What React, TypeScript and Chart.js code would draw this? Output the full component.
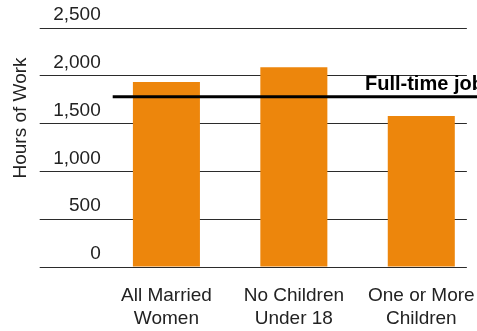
import React, { useEffect, useRef } from "react";
import { Chart, registerables } from "chart.js";

Chart.register(...registerables);

const categories: string[][] = [
  ["All Married", "Women"],
  ["No Children", "Under 18"],
  ["One or More", "Children"],
];
const hoursOfWork: number[] = [1935, 2090, 1580];
const fullTimeHours = 1780;
const fullTimeLabel = "Full-time job";
const yAxisTitle = "Hours of Work";
const yMin = 0;
const yMax = 2500;
const yStep = 500;

const FONT = "'Liberation Sans', Arial, sans-serif";
const TEXT = "#222222";
const GRID = "#2b2b2b";
const BAR = "#ED860C";
const AXIS_OVERHANG = 8; // category axis runs a little past the right edge

function stretchX(chart: any) {
  const xs = chart.scales.x;
  const ys = chart.scales.y;
  if (!xs || !ys) return;
  xs.left = ys.right;
  xs.right = chart.width + AXIS_OVERHANG;
  xs.width = xs.right - xs.left;
  xs.configure();
}

const overlayPlugin = {
  id: "overlay",
  afterLayout(chart: any) {
    stretchX(chart);
  },
  beforeDatasetsUpdate(chart: any) {
    stretchX(chart);
  },
  afterDatasetsDraw(chart: any) {
    const { ctx, chartArea, scales } = chart;
    const y = scales.y.getPixelForValue(fullTimeHours);
    ctx.save();
    ctx.strokeStyle = "#000";
    ctx.lineWidth = 3;
    ctx.beginPath();
    ctx.moveTo(chartArea.left + 10, y);
    ctx.lineTo(chart.width, y);
    ctx.stroke();
    ctx.fillStyle = "#000";
    ctx.font = `bold 20px ${FONT}`;
    ctx.textAlign = "left";
    ctx.textBaseline = "alphabetic";
    ctx.fillText(fullTimeLabel, scales.x.right - 120, y - 7);
    // axis title
    ctx.fillStyle = TEXT;
    ctx.font = `19px ${FONT}`;
    ctx.translate(26, 118);
    ctx.rotate(-Math.PI / 2);
    ctx.textAlign = "center";
    ctx.fillText(yAxisTitle, 0, 0);
    ctx.restore();
  },
};

export default function App() {
  const ref = useRef<HTMLCanvasElement | null>(null);
  useEffect(() => {
    if (!ref.current) return;
    const chart = new Chart(ref.current, {
      type: "bar",
      data: {
        labels: categories,
        datasets: [
          {
            data: hoursOfWork,
            backgroundColor: BAR,
            borderWidth: 0,
            categoryPercentage: 1,
            barPercentage: 0.526,
          },
        ],
      },
      options: {
        responsive: true,
        maintainAspectRatio: false,
        animation: false,
        devicePixelRatio: 1,
        layout: { padding: { left: 0, right: 0, top: 28, bottom: 0 } },
        plugins: { legend: { display: false }, tooltip: { enabled: false } },
        scales: {
          x: {
            afterFit: (s: any) => {
              s.height = 64;
            },
            grid: { display: false, drawTicks: false },
            border: { display: false },
            ticks: {
              color: TEXT,
              padding: 17.5,
              maxRotation: 0,
              autoSkip: false,
              font: { family: FONT, size: 19, lineHeight: "23px" as any },
            },
          },
          y: {
            min: yMin,
            max: yMax,
            afterFit: (s: any) => {
              s.width = 102.7;
            },
            grid: {
              color: GRID,
              lineWidth: 1,
              drawTicks: true,
              tickLength: 63,
              tickColor: GRID,
            },
            border: { display: false },
            ticks: {
              stepSize: yStep,
              color: TEXT,
              padding: -61,
              labelOffset: -13,
              font: { family: FONT, size: 19 },
              callback: (v: any) => Number(v).toLocaleString("en-US"),
            },
          },
        },
      },
      plugins: [overlayPlugin],
    });
    return () => chart.destroy();
  }, []);
  return (
    <div
      style={{
        position: "fixed",
        left: 0,
        top: 0,
        width: 477,
        height: 331,
        background: "#fff",
      }}
    >
      <canvas ref={ref} />
    </div>
  );
}
